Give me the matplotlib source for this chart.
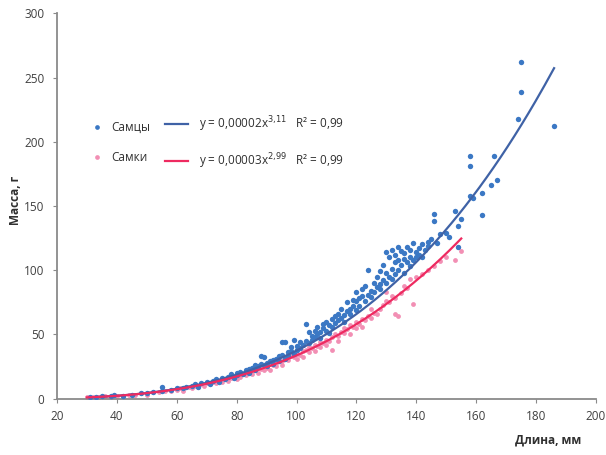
import numpy as np
import matplotlib
matplotlib.use("Agg")
import matplotlib.pyplot as plt
from matplotlib.lines import Line2D

plt.rcParams['font.family'] = ['Open Sans', 'DejaVu Sans']

# Самцы (males): length, mm / mass, g
male_len = [31, 33, 35, 38, 39, 42, 45, 48, 50, 52, 55, 55, 58, 60,
            62, 63, 65, 66, 67, 68, 70, 71, 72, 73, 74, 75, 76, 77, 78, 79, 80, 80,
            81, 82, 83, 84, 84, 85, 86, 86, 87, 88, 88, 89, 89, 90, 90, 91, 92, 92,
            93, 94, 94, 95, 95, 96, 96, 97, 97, 98, 98, 99, 99, 100, 100,
            101, 101, 102, 103, 103, 104, 104, 105, 105, 106, 106, 107, 107, 108, 108,
            109, 109, 110, 110, 111, 111, 112, 112, 113, 113, 114, 114, 115, 115, 116,
            116, 117, 117, 118, 118, 119, 119, 120, 120, 120,
            121, 121, 122, 122, 123, 123, 124, 124, 125, 125, 126, 126, 127, 127, 128,
            128, 128, 129, 129, 130, 130, 130, 131, 131, 132, 132, 132, 133, 133, 133,
            134, 134, 134, 135, 135, 136, 136, 136, 137, 137, 138, 138, 138, 139, 139,
            140, 140, 141, 141, 142, 142, 143, 144, 144, 145, 146, 146, 147, 148, 150,
            151, 153, 154, 154, 155,
            158, 159, 158, 158, 162, 162, 165, 166, 167, 175, 175, 174, 186]
male_mass = [1, 1, 2, 2, 3, 2, 3, 4, 4, 5, 9, 6, 7, 8,
             8, 9, 10, 11, 9, 12, 13, 11, 14, 15, 13, 16, 15, 17, 19, 16, 20, 18,
             21, 19, 22, 23, 20, 24, 22, 26, 25, 27, 33, 26, 32, 28, 25, 29, 30, 27,
             31, 33, 29, 44, 34, 44, 31, 36, 33, 37, 40, 46, 35, 38, 41,
             39, 44, 42, 58, 45, 52, 43, 46, 49, 48, 53, 50, 56, 52, 47,
             55, 58, 53, 60, 57, 51, 62, 56, 64, 59, 66, 61, 63, 70, 65,
             60, 68, 75, 70, 66, 77, 72, 76, 69, 83,
             78, 72, 80, 85, 76, 88, 81, 100, 84, 79, 83, 90, 87, 95, 89,
             99, 85, 92, 104, 98, 90, 114, 110, 95, 116, 101, 93, 112, 106, 97,
             108, 118, 100, 115, 104, 109, 113, 98, 118, 106, 110, 116, 103, 121, 108,
             114, 110, 112, 117, 110, 120, 116, 122, 119, 124, 144, 138, 121, 128, 129,
             126, 146, 134, 118, 140,
             158, 156, 189, 181, 160, 143, 166, 189, 170, 262, 239, 218, 212]

# Самки (females): length, mm / mass, g
female_len = [30, 32, 34, 36, 38, 40, 42, 44, 46, 48, 50, 52, 54, 56, 58, 60,
              61, 62, 64, 65, 66, 67, 68, 69, 70, 71, 72, 73, 74, 75, 76, 77, 78, 79, 80, 80,
              81, 82, 83, 84, 85, 86, 87, 87, 88, 89, 89, 90, 91, 91, 92, 93, 93, 94, 95,
              95, 96, 97, 97, 98, 99, 100, 100,
              101, 102, 102, 103, 104, 104, 105, 106, 106, 107, 108, 108, 109, 110, 110,
              111, 112, 112, 113, 114, 114, 115, 116, 116, 117, 118, 118, 119, 120, 120,
              121, 122, 122, 123, 124, 125, 125, 126, 127, 128, 128, 129, 130, 130, 131,
              132, 133, 133, 134, 135, 136, 137, 138, 139, 140, 142, 144, 146, 148, 150,
              153, 154, 155]
female_mass = [1, 1, 1, 2, 1, 2, 2, 3, 3, 4, 3, 5, 5, 6, 6, 7,
               8, 6, 9, 8, 10, 9, 11, 10, 12, 11, 13, 12, 14, 13, 15, 14, 16, 17, 18, 15,
               17, 19, 18, 21, 19, 22, 20, 24, 23, 22, 26, 24, 27, 22, 26, 28, 25, 30, 29,
               26, 31, 30, 34, 33, 32, 35, 31,
               34, 37, 32, 38, 36, 40, 39, 42, 37, 41, 44, 40, 43, 46, 42,
               45, 48, 38, 50, 49, 45, 52, 51, 55, 54, 57, 50, 56, 60, 55,
               58, 62, 56, 61, 64, 63, 70, 67, 66, 70, 89, 73, 76, 83, 75,
               80, 66, 78, 64, 82, 88, 86, 93, 74, 95, 97, 100, 103, 107, 110,
               108, 118, 115]

# power trend lines y = a * x^b as drawn on the chart
male_fit = (2.25e-5, 3.11)
female_fit = (3.52e-5, 2.99)
male_eq = 'y = 0,00002x$^{3{,}11}$   R² = 0,99'
female_eq = 'y = 0,00003x$^{2{,}99}$   R² = 0,99'

male_pt = '#3b78c4'
female_pt = '#f28fb4'
male_line = '#3f62a6'
female_line = '#ee2a60'

fig = plt.figure(figsize=(6.06, 4.55), dpi=100)
ax = fig.add_axes([0.094, 0.124, 0.8895, 0.8468])

ax.scatter(female_len, female_mass, s=12, color=female_pt, lw=0, zorder=2)
ax.scatter(male_len, male_mass, s=15, color=male_pt, lw=0, zorder=3)

xm = np.linspace(min(male_len), max(male_len), 200)
xf = np.linspace(min(female_len), max(female_len), 200)
ax.plot(xm, male_fit[0] * xm ** male_fit[1], color=male_line, lw=1.6, zorder=4)
ax.plot(xf, female_fit[0] * xf ** female_fit[1], color=female_line, lw=1.6, zorder=5)

ax.set_xlim(20, 200)
ax.set_ylim(0, 300)
ax.set_xticks(range(20, 201, 20))
ax.set_yticks(range(0, 301, 50))
for s in ['top', 'right']:
    ax.spines[s].set_visible(False)
for s in ['left', 'bottom']:
    ax.spines[s].set_color('#8a8a8a')
    ax.spines[s].set_linewidth(1.3)
ax.tick_params(axis='both', direction='out', length=3, color='#8a8a8a',
               labelsize=8.5, labelcolor='#404040')
ax.tick_params(axis='y', pad=6)
ax.tick_params(axis='x', pad=5)

fig.text(0.905, 0.033, 'Длина, мм', fontsize=8.5, fontweight='bold',
         color='#303030', ha='center', va='center')
fig.text(0.025, 0.56, 'Масса, г', fontsize=8.5, fontweight='bold',
         color='#303030', ha='center', va='center', rotation=90)

# legend: markers column and trend line column
h_pts = [Line2D([], [], ls='', marker='o', ms=3.4, color=male_pt, mec='none'),
         Line2D([], [], ls='', marker='o', ms=3.4, color=female_pt, mec='none')]
leg1 = fig.legend(h_pts, ['Самцы', 'Самки'], loc='center left',
                  bbox_to_anchor=(0.145, 0.686), frameon=False, fontsize=8.5,
                  handlelength=0.6, handletextpad=0.9, labelspacing=1.45,
                  borderpad=0, labelcolor='#303030')
h_lines = [Line2D([], [], color=male_line, lw=1.6),
           Line2D([], [], color=female_line, lw=1.6)]
leg2 = fig.legend(h_lines, [male_eq, female_eq], loc='center left',
                  bbox_to_anchor=(0.262, 0.686), frameon=False, fontsize=8.5,
                  handlelength=2.0, handletextpad=0.9, labelspacing=1.45,
                  borderpad=0, labelcolor='#303030')

fig.savefig('out.png', dpi=100, facecolor='white')
